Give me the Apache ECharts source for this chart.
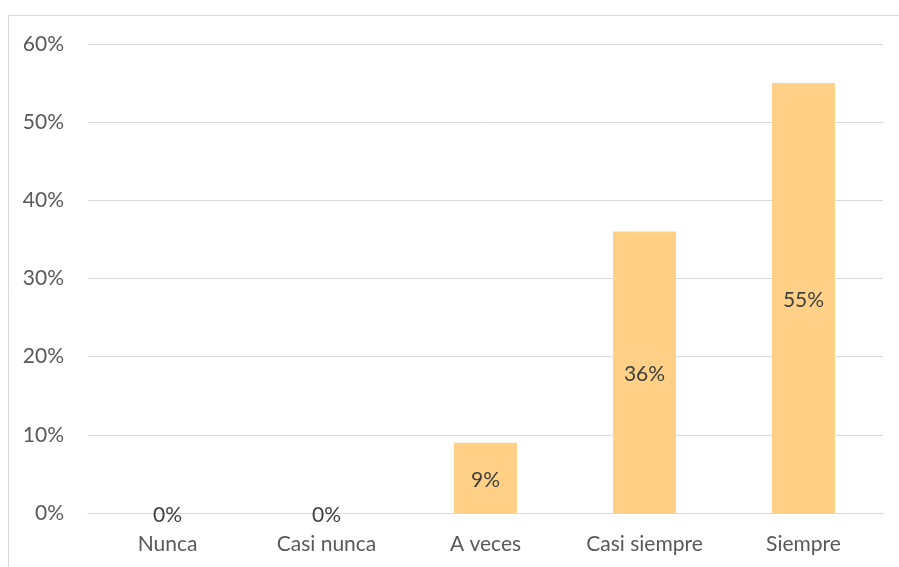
<!DOCTYPE html>
<html>
<head>
<meta charset="utf-8">
<script src="https://cdn.jsdelivr.net/npm/echarts@6/dist/echarts.min.js"></script>
<style>
html,body{margin:0;padding:0;background:#fff;}
#chart{width:899px;height:567px;}
</style>
</head>
<body>
<div id="chart"></div>
<script>
const categories = ['Nunca', 'Casi nunca', 'A veces', 'Casi siempre', 'Siempre'];
const values = [0, 0, 9, 36, 55];
const yTicks = [0, 10, 20, 30, 40, 50, 60];

const chart = echarts.init(document.getElementById('chart'));
const fontFamily = 'Lato, "Open Sans", sans-serif';
chart.setOption({
  backgroundColor: '#ffffff',
  animation: false,
  graphic: [{
    type: 'rect',
    shape: { x: 8.5, y: 15.5, width: 1000, height: 1000 },
    style: { fill: 'none', stroke: '#d9d9d9', lineWidth: 1 },
    silent: true
  }],
  grid: { left: 88, right: 16, top: 44, bottom: 54, containLabel: false },
  xAxis: {
    type: 'category',
    data: categories,
    axisLine: { show: true, lineStyle: { color: '#d9d9d9', width: 1 } },
    axisTick: { show: false },
    axisLabel: { color: '#595959', fontSize: 21, fontFamily: fontFamily, margin: 21 }
  },
  yAxis: {
    type: 'value',
    min: yTicks[0],
    max: yTicks[yTicks.length - 1],
    interval: 10,
    axisLine: { show: false },
    axisTick: { show: false },
    splitLine: { lineStyle: { color: '#d9d9d9', width: 1 } },
    axisLabel: { color: '#595959', fontSize: 21, fontFamily: fontFamily, margin: 24, formatter: '{value}%' }
  },
  series: [{
    type: 'bar',
    data: values,
    barWidth: 63,
    itemStyle: { color: '#FFD086' },
    label: {
      show: true,
      position: 'inside',
      offset: [0, 2],
      color: '#404040',
      fontSize: 21,
      fontFamily: fontFamily,
      formatter: '{c}%'
    }
  }]
});
</script>
</body>
</html>
